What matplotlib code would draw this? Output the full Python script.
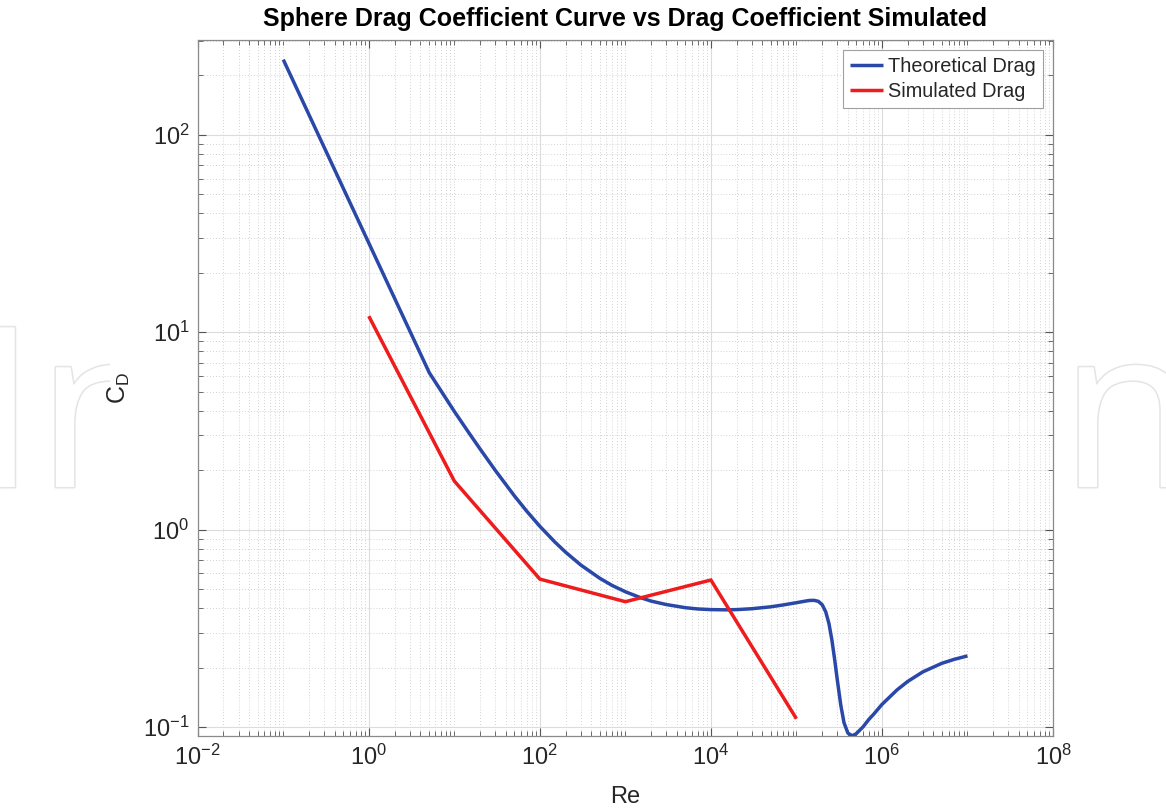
import numpy as np
import matplotlib
matplotlib.use("Agg")
import matplotlib.pyplot as plt
import matplotlib.patheffects as pe
from matplotlib import ticker
from matplotlib.patches import Rectangle

plt.rcParams["font.family"] = ["Liberation Sans", "DejaVu Sans"]
plt.rcParams["mathtext.fontset"] = "custom"
plt.rcParams["mathtext.rm"] = "Liberation Sans"
plt.rcParams["mathtext.it"] = "Liberation Sans"

# ── data ──
re_theory = [0.1, 5.1, 10.1, 15.1, 20.1, 30.1, 50.1, 70.1, 100.1, 150, 200, 300,
             500, 700, 1e3, 1.5e3, 2e3, 3e3, 5e3, 7e3, 1e4, 1.5e4, 2e4, 3e4,
             5e4, 7e4, 1e5, 1.2e5, 1.4e5, 1.6e5, 1.8e5, 2e5, 2.2e5, 2.4e5,
             2.6e5, 2.8e5, 3e5, 3.3e5, 3.6e5, 4e5, 4.5e5, 5e5, 6e5, 7e5, 8e5,
             1e6, 1.5e6, 2e6, 3e6, 5e6, 7e6, 1e7]
cd_theory = [240.2, 6.226, 3.942, 3.051, 2.552, 1.995, 1.486, 1.240, 1.038, 0.864,
             0.768, 0.662, 0.567, 0.521, 0.484, 0.452, 0.434, 0.417, 0.402, 0.396,
             0.393, 0.392, 0.393, 0.397, 0.406, 0.415, 0.426, 0.432, 0.437, 0.438,
             0.433, 0.416, 0.383, 0.334, 0.275, 0.219, 0.174, 0.129, 0.105, 0.093,
             0.0902, 0.0924, 0.100, 0.109, 0.116, 0.130, 0.154, 0.170, 0.190,
             0.210, 0.220, 0.229]

re_sim = [1, 10, 100, 1e3, 1e4, 1e5]
cd_sim = [12.05, 1.76, 0.561, 0.431, 0.555, 0.110]

x_ticks = [1e-2, 1e0, 1e2, 1e4, 1e6, 1e8]
y_ticks = [1e-1, 1e0, 1e1, 1e2]

BLUE = "#2a48a8"
RED = "#ee1c1c"
TXT = "#262626"

fig = plt.figure(figsize=(11.66, 8.10), dpi=100)
fig.patch.set_facecolor("white")

# ── faint watermark, only showing in the side margins ──
wm = fig.text(-0.022, 0.3988, "IntechOpen", fontsize=161, family="Open Sans",
              color="white", ha="left", va="baseline", zorder=0)
wm.set_path_effects([pe.Stroke(linewidth=2.2, foreground="#e4e4e4"), pe.Normal()])
fig.patches.append(Rectangle((110 / 1166, 0), (1065 - 110) / 1166, 1,
                             transform=fig.transFigure, facecolor="white",
                             edgecolor="none", zorder=0.5))

ax = fig.add_axes([0.1696, 0.0914, 0.7335, 0.8592])
ax.set_facecolor("white")
ax.set_zorder(1)

ax.plot(re_theory, cd_theory, color=BLUE, linewidth=2.5, label="Theoretical Drag",
        solid_joinstyle="round", solid_capstyle="butt", zorder=3)
ax.plot(re_sim, cd_sim, color=RED, linewidth=2.5, label="Simulated Drag",
        solid_joinstyle="miter", solid_capstyle="butt", zorder=3)

ax.set_xscale("log")
ax.set_yscale("log")
ax.set_xlim(1e-2, 1e8)
ax.set_ylim(0.0900, 302)

ax.set_xticks(x_ticks)
ax.set_yticks(y_ticks)
ax.xaxis.set_minor_locator(ticker.LogLocator(base=10, subs=np.arange(1, 10), numticks=200))
ax.yaxis.set_minor_locator(ticker.LogLocator(base=10, subs=np.arange(1, 10), numticks=200))
ax.xaxis.set_minor_formatter(ticker.NullFormatter())
ax.yaxis.set_minor_formatter(ticker.NullFormatter())

# MATLAB-ish grid
ax.grid(True, which="major", color="#dcdcdc", linewidth=0.8, linestyle="-")
ax.grid(True, which="minor", color="#c4c4c4", linewidth=0.6, linestyle=(0, (1, 2.5)))
ax.set_axisbelow(True)

ax.tick_params(which="both", direction="in", top=True, right=True, colors="#555555",
               labelcolor=TXT)
ax.tick_params(which="major", length=6, width=0.8, labelsize=17, pad=6)
ax.tick_params(which="minor", length=3.5, width=0.6)
for s in ax.spines.values():
    s.set_color("#8a8a8a")
    s.set_linewidth(0.9)

ax.set_xlabel("Re", fontsize=17, color=TXT, labelpad=12)
ax.set_ylabel(r"C$_\mathregular{D}$", fontsize=18, color=TXT, labelpad=8)
ax.set_title("Sphere Drag Coefficient Curve vs Drag Coefficient Simulated",
             fontsize=18, fontweight="bold", color="black", pad=10)

leg = ax.legend(loc="upper right", fontsize=14.3, frameon=True, fancybox=False,
                framealpha=1, edgecolor="#a0a0a0", handlelength=1.7,
                labelspacing=0.3, borderpad=0.35, handletextpad=0.25,
                borderaxespad=0.5)
leg.get_frame().set_linewidth(0.8)
for t in leg.get_texts():
    t.set_color(TXT)

fig.savefig("out.png", dpi=100, facecolor="white")
plt.close(fig)
